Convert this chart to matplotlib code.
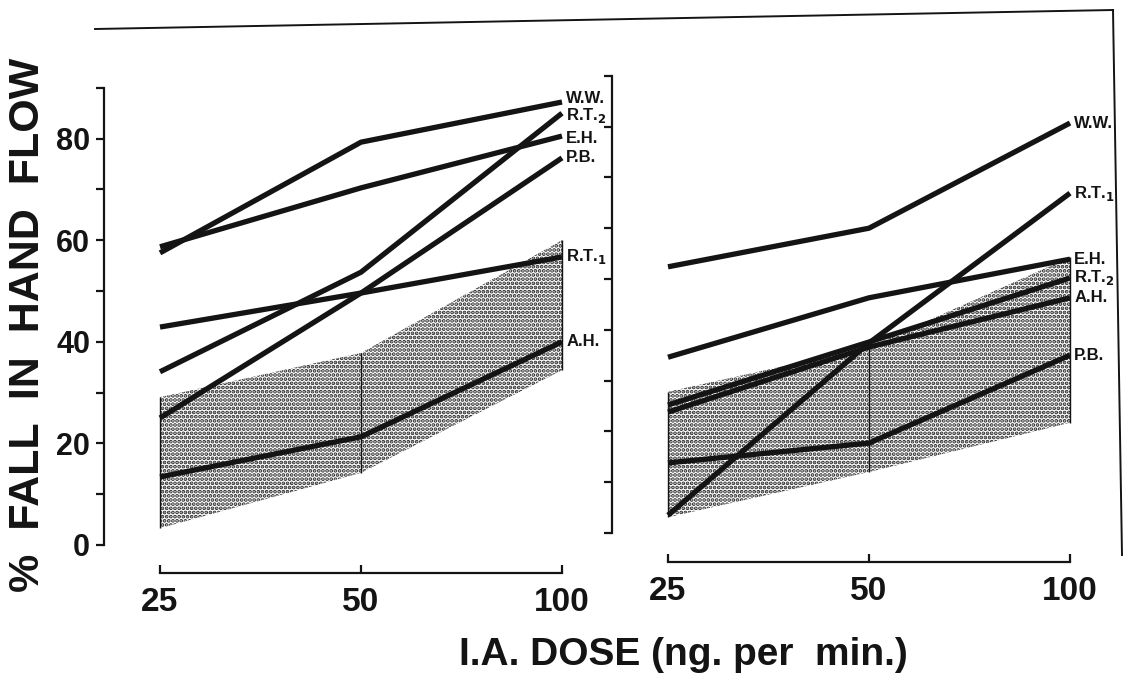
import matplotlib
matplotlib.use("Agg")
import matplotlib.pyplot as plt
from matplotlib import font_manager
from matplotlib.lines import Line2D
from matplotlib.ticker import FixedLocator, NullLocator

# ---------------------------------------------------------------- data
DOSES = [25, 50, 100]

# left panel: subject -> % fall in hand flow at 25, 50, 100 ng/min
LEFT_SUBJECTS = ["W.W.", "E.H.", "R.T.2", "P.B.", "R.T.1", "A.H."]
LEFT_WW = [57.5, 79.3, 87.2]
LEFT_EH = [58.7, 70.3, 80.5]
LEFT_RT2 = [34.1, 53.7, 85.0]
LEFT_PB = [25.0, 49.6, 76.2]
LEFT_RT1 = [42.9, 49.6, 56.7]
LEFT_AH = [13.4, 21.3, 40.0]
LEFT_BAND_LO = [3.3, 14.2, 34.4]
LEFT_BAND_HI = [29.1, 37.8, 60.0]

# right panel
RIGHT_SUBJECTS = ["W.W.", "R.T.1", "E.H.", "R.T.2", "A.H.", "P.B."]
RIGHT_WW = [52.4, 60.0, 80.7]
RIGHT_RT1 = [3.5, 37.4, 66.9]
RIGHT_EH = [34.6, 46.3, 53.9]
RIGHT_RT2 = [25.2, 37.6, 50.2]
RIGHT_AH = [23.8, 36.6, 46.3]
RIGHT_PB = [13.8, 17.7, 35.0]
RIGHT_BAND_LO = [3.1, 12.0, 21.7]
RIGHT_BAND_HI = [27.8, 36.6, 54.3]

Y_MAJOR = [0, 20, 40, 60, 80]
Y_MINOR = [10, 30, 50, 70, 90]
Y_ALL = [0, 10, 20, 30, 40, 50, 60, 70, 80, 90]

# ---------------------------------------------------------------- fonts
_names = {f.name for f in font_manager.fontManager.ttflist}
BOLD = "Liberation Sans" if "Liberation Sans" in _names else "DejaVu Sans"
NARROW = "Liberation Sans Narrow" if "Liberation Sans Narrow" in _names else BOLD

INK = "#141414"
W, H = 1131, 673
plt.rcParams["hatch.linewidth"] = 1.9

# label nudges (points) where end points crowd each other
LEFT_NUDGE = {"W.W.": 2.5, "R.T.2": -1.5, "E.H.": -1.5}


def box(x0, y_top, x1, y_bot):
    """pixel box -> figure fraction rect"""
    return [x0 / W, 1 - y_bot / H, (x1 - x0) / W, (y_bot - y_top) / H]


def sub_label(name):
    if name[-1].isdigit():
        return name[:-1] + r"$_\mathbf{" + name[-1] + "}$"
    return name


def setup_panel(ax, x_spine, x25, x_right, labelled, outward):
    octave = 201.0
    ax.set_xscale("log", base=2)
    ax.set_xlim(25 * 2 ** (-(x25 - x_spine) / octave),
                100 * 2 ** ((x_right - (x25 + 2 * octave)) / octave))
    ax.set_ylim(0, 91)
    for s in ("top", "right"):
        ax.spines[s].set_visible(False)
    ax.spines["left"].set_bounds(0, 90)
    ax.spines["bottom"].set_bounds(25, 100)
    ax.spines["bottom"].set_position(("outward", outward))
    for s in ("left", "bottom"):
        ax.spines[s].set_linewidth(1.6)
        ax.spines[s].set_color(INK)

    ax.xaxis.set_major_locator(FixedLocator(DOSES))
    ax.xaxis.set_minor_locator(NullLocator())
    ax.set_xticklabels([str(d) for d in DOSES], fontfamily=NARROW,
                       fontweight="bold", fontsize=24, color=INK)
    ax.tick_params(axis="x", direction="in", length=6, width=1.6, pad=10,
                   color=INK)

    if labelled:
        ax.yaxis.set_major_locator(FixedLocator(Y_MAJOR))
        ax.yaxis.set_minor_locator(FixedLocator(Y_MINOR))
        ax.set_yticklabels([str(v) for v in Y_MAJOR], fontfamily=NARROW,
                           fontweight="bold", fontsize=22, color=INK)
    else:
        ax.yaxis.set_major_locator(FixedLocator(Y_ALL))
        ax.yaxis.set_minor_locator(NullLocator())
        ax.set_yticklabels([])
    ax.tick_params(axis="y", which="both", direction="out", length=6,
                   width=1.6, pad=4, color=INK)


def draw_panel(ax, subjects, series, lo, hi, nudge):
    ax.fill_between(DOSES, lo, hi, facecolor="white", edgecolor="#262626",
                    hatch="....", linewidth=0, zorder=1)
    ax.vlines(DOSES, lo, hi, colors=INK, lw=1.0, zorder=2)
    for name, vals in zip(subjects, series):
        ax.plot(DOSES, vals, color=INK, lw=3.8, solid_capstyle="butt",
                solid_joinstyle="round", zorder=3)
        ax.annotate(sub_label(name), xy=(DOSES[-1], vals[-1]),
                    xytext=(3, nudge.get(name, 0)),
                    textcoords="offset points", ha="left", va="center",
                    fontsize=12, fontweight="bold", family=BOLD, color=INK)


fig = plt.figure(figsize=(W / 100, H / 100), dpi=100)

ax_l = fig.add_axes(box(104, 545 - 91 * 5.08, 610, 545))
setup_panel(ax_l, 104, 160, 610, labelled=True, outward=20)
draw_panel(ax_l, LEFT_SUBJECTS,
           [LEFT_WW, LEFT_EH, LEFT_RT2, LEFT_PB, LEFT_RT1, LEFT_AH],
           LEFT_BAND_LO, LEFT_BAND_HI, LEFT_NUDGE)

ax_r = fig.add_axes(box(612, 533 - 91 * 5.08, 1113, 533))
setup_panel(ax_r, 612, 668, 1113, labelled=False, outward=21)
draw_panel(ax_r, RIGHT_SUBJECTS,
           [RIGHT_WW, RIGHT_RT1, RIGHT_EH, RIGHT_RT2, RIGHT_AH, RIGHT_PB],
           RIGHT_BAND_LO, RIGHT_BAND_HI, {})

# frame lines of the original plate (top and right edge)
fig.add_artist(Line2D([95 / W, 1113 / W], [1 - 29 / H, 1 - 10 / H],
                      transform=fig.transFigure, color=INK, lw=1.4))
fig.add_artist(Line2D([1113 / W, 1122 / W], [1 - 10 / H, 1 - 555 / H],
                      transform=fig.transFigure, color=INK, lw=1.4))

fig.text(28 / W, 1 - 325 / H, "%  FALL  IN  HAND  FLOW", rotation=90,
         ha="center", va="center", fontsize=31, fontweight="bold",
         family=BOLD, color=INK)
fig.text(683 / W, 1 - 655 / H, "I.A. DOSE (ng. per  min.)", ha="center",
         va="center", fontsize=28, fontweight="bold", family=BOLD, color=INK)

fig.savefig("out.png", dpi=100, facecolor="white")
